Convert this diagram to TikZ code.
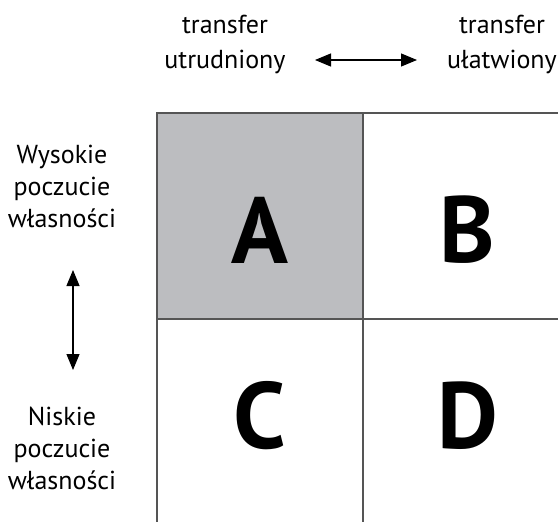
\documentclass[tikz,border=0pt]{standalone}
\usepackage{fontspec}
\setmainfont{PT Sans}
\usetikzlibrary{arrows.meta}
\definecolor{cellgray}{RGB}{188,189,192}
\definecolor{linegray}{RGB}{85,85,85}
\begin{document}
\begin{tikzpicture}[x=1pt,y=-1pt,
  toplab/.style={align=center,anchor=base,font=\fontsize{26}{35}\selectfont,inner sep=0pt},
  sidelab/.style={align=center,anchor=base,font=\fontsize{26}{32}\selectfont,inner sep=0pt},
  big/.style={font=\fontsize{94}{94}\selectfont\bfseries,inner sep=0pt},
  grid line/.style={draw=linegray,line width=1.3pt},
  dbl arrow/.style={{Triangle[length=16pt,width=13pt]}-{Triangle[length=16pt,width=13pt]},line width=1.1pt}]
  \useasboundingbox (0,0) rectangle (558,522);
  \begin{scope}
    \fill[cellgray] (157,113) rectangle (363,319);
    \draw[grid line] (157,522) -- (157,113) -- (558,113);
    \draw[grid line] (363,113) -- (363,522);
    \draw[grid line] (157,319) -- (558,319);
    \node[big] (A) at (260,230) {A};
    \node[big] (B) at (467,230) {B};
    \node[big] (C) at (260,416) {C};
    \node[big] (D) at (468,416) {D};
  \end{scope}
  % last line sits on the given baseline
  \node[toplab] (hard) at (225,68) {transfer\\utrudniony};
  \node[toplab] (easy) at (502,68) {transfer\\ułatwiony};
  \node[sidelab] (high) at (62,227) {Wysokie\\poczucie\\własności};
  \node[sidelab] (low) at (62,489) {Niskie\\poczucie\\własności};
  \coordinate (h1) at (315,60);
  \coordinate (h2) at (417,60);
  \coordinate (v1) at (73,270);
  \coordinate (v2) at (73,370);
  \draw[dbl arrow] (h1) -- (h2);
  \draw[dbl arrow] (v1) -- (v2);
\end{tikzpicture}
\end{document}
